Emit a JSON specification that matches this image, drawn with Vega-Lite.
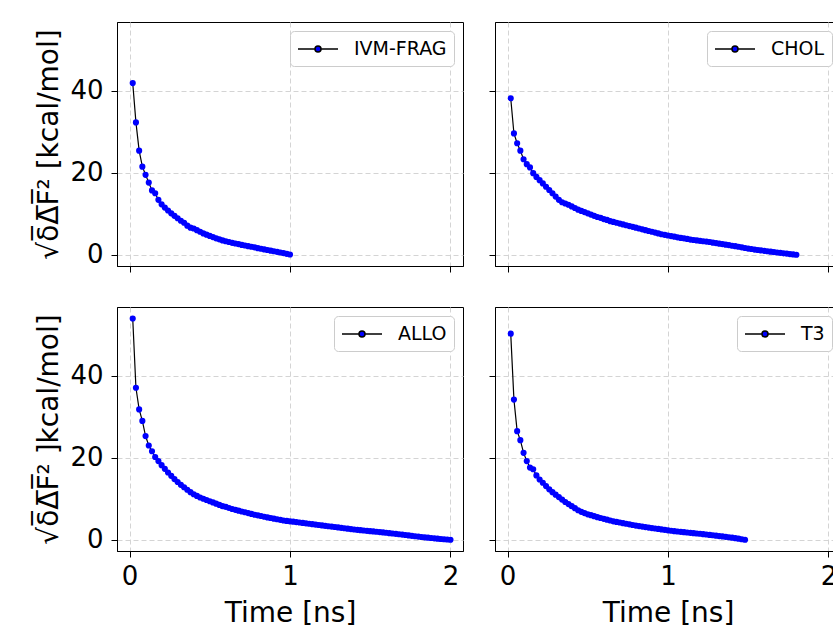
{
  "$schema": "https://vega.github.io/schema/vega-lite/v6.json",
  "padding": {"left": 35, "top": 21, "right": 0, "bottom": 0},
  "background": "white",
  "datasets": {
    "ivm": [
      {"series":"IVM-FRAG","t":0.02,"v":41.9},{"series":"IVM-FRAG","t":0.04,"v":32.3},{"series":"IVM-FRAG","t":0.06,"v":25.4},{"series":"IVM-FRAG","t":0.08,"v":21.5},{"series":"IVM-FRAG","t":0.10,"v":19.5},
      {"series":"IVM-FRAG","t":0.12,"v":17.6},{"series":"IVM-FRAG","t":0.14,"v":15.7},{"series":"IVM-FRAG","t":0.16,"v":15.0},{"series":"IVM-FRAG","t":0.18,"v":13.4},{"series":"IVM-FRAG","t":0.20,"v":12.3},
      {"series":"IVM-FRAG","t":0.22,"v":11.5},{"series":"IVM-FRAG","t":0.24,"v":10.8},{"series":"IVM-FRAG","t":0.26,"v":10.1},{"series":"IVM-FRAG","t":0.28,"v":9.5},{"series":"IVM-FRAG","t":0.30,"v":8.9},
      {"series":"IVM-FRAG","t":0.32,"v":8.3},{"series":"IVM-FRAG","t":0.34,"v":7.8},{"series":"IVM-FRAG","t":0.36,"v":7.1},{"series":"IVM-FRAG","t":0.38,"v":6.6},{"series":"IVM-FRAG","t":0.40,"v":6.4},
      {"series":"IVM-FRAG","t":0.42,"v":6.0},{"series":"IVM-FRAG","t":0.44,"v":5.6},{"series":"IVM-FRAG","t":0.46,"v":5.2},{"series":"IVM-FRAG","t":0.48,"v":4.9},{"series":"IVM-FRAG","t":0.50,"v":4.6},
      {"series":"IVM-FRAG","t":0.52,"v":4.3},{"series":"IVM-FRAG","t":0.54,"v":4.0},{"series":"IVM-FRAG","t":0.56,"v":3.75},{"series":"IVM-FRAG","t":0.58,"v":3.5},{"series":"IVM-FRAG","t":0.60,"v":3.3},
      {"series":"IVM-FRAG","t":0.62,"v":3.1},{"series":"IVM-FRAG","t":0.64,"v":2.9},{"series":"IVM-FRAG","t":0.66,"v":2.75},{"series":"IVM-FRAG","t":0.68,"v":2.6},{"series":"IVM-FRAG","t":0.70,"v":2.4},
      {"series":"IVM-FRAG","t":0.72,"v":2.25},{"series":"IVM-FRAG","t":0.74,"v":2.1},{"series":"IVM-FRAG","t":0.76,"v":1.95},{"series":"IVM-FRAG","t":0.78,"v":1.8},{"series":"IVM-FRAG","t":0.80,"v":1.6},
      {"series":"IVM-FRAG","t":0.82,"v":1.45},{"series":"IVM-FRAG","t":0.84,"v":1.3},{"series":"IVM-FRAG","t":0.86,"v":1.15},{"series":"IVM-FRAG","t":0.88,"v":1.0},{"series":"IVM-FRAG","t":0.90,"v":0.85},
      {"series":"IVM-FRAG","t":0.92,"v":0.7},{"series":"IVM-FRAG","t":0.94,"v":0.55},{"series":"IVM-FRAG","t":0.96,"v":0.4},{"series":"IVM-FRAG","t":0.98,"v":0.22},{"series":"IVM-FRAG","t":1.00,"v":0.05}
    ],
    "chol": [
      {"series":"CHOL","t":0.02,"v":38.2},{"series":"CHOL","t":0.04,"v":29.6},{"series":"CHOL","t":0.06,"v":27.2},{"series":"CHOL","t":0.08,"v":25.4},{"series":"CHOL","t":0.10,"v":23.3},
      {"series":"CHOL","t":0.12,"v":22.1},{"series":"CHOL","t":0.14,"v":21.3},{"series":"CHOL","t":0.16,"v":19.9},{"series":"CHOL","t":0.18,"v":19.0},{"series":"CHOL","t":0.20,"v":18.2},
      {"series":"CHOL","t":0.22,"v":17.4},{"series":"CHOL","t":0.24,"v":16.6},{"series":"CHOL","t":0.26,"v":15.8},{"series":"CHOL","t":0.28,"v":15.0},{"series":"CHOL","t":0.30,"v":14.2},
      {"series":"CHOL","t":0.32,"v":13.4},{"series":"CHOL","t":0.34,"v":12.8},{"series":"CHOL","t":0.36,"v":12.5},{"series":"CHOL","t":0.38,"v":12.2},{"series":"CHOL","t":0.40,"v":11.8},
      {"series":"CHOL","t":0.42,"v":11.4},{"series":"CHOL","t":0.44,"v":11.0},{"series":"CHOL","t":0.46,"v":10.7},{"series":"CHOL","t":0.48,"v":10.4},{"series":"CHOL","t":0.50,"v":10.1},
      {"series":"CHOL","t":0.52,"v":9.8},{"series":"CHOL","t":0.54,"v":9.5},{"series":"CHOL","t":0.56,"v":9.2},{"series":"CHOL","t":0.58,"v":9.0},{"series":"CHOL","t":0.60,"v":8.7},
      {"series":"CHOL","t":0.62,"v":8.5},{"series":"CHOL","t":0.64,"v":8.2},{"series":"CHOL","t":0.66,"v":8.0},{"series":"CHOL","t":0.68,"v":7.8},{"series":"CHOL","t":0.70,"v":7.6},
      {"series":"CHOL","t":0.72,"v":7.4},{"series":"CHOL","t":0.74,"v":7.2},{"series":"CHOL","t":0.76,"v":7.0},{"series":"CHOL","t":0.78,"v":6.8},{"series":"CHOL","t":0.80,"v":6.6},
      {"series":"CHOL","t":0.82,"v":6.4},{"series":"CHOL","t":0.84,"v":6.2},{"series":"CHOL","t":0.86,"v":6.0},{"series":"CHOL","t":0.88,"v":5.8},{"series":"CHOL","t":0.90,"v":5.6},
      {"series":"CHOL","t":0.92,"v":5.4},{"series":"CHOL","t":0.94,"v":5.2},{"series":"CHOL","t":0.96,"v":5.0},{"series":"CHOL","t":0.98,"v":4.85},{"series":"CHOL","t":1.00,"v":4.7},
      {"series":"CHOL","t":1.02,"v":4.55},{"series":"CHOL","t":1.04,"v":4.4},{"series":"CHOL","t":1.06,"v":4.25},{"series":"CHOL","t":1.08,"v":4.1},{"series":"CHOL","t":1.10,"v":4.0},
      {"series":"CHOL","t":1.12,"v":3.85},{"series":"CHOL","t":1.14,"v":3.7},{"series":"CHOL","t":1.16,"v":3.6},{"series":"CHOL","t":1.18,"v":3.5},{"series":"CHOL","t":1.20,"v":3.4},
      {"series":"CHOL","t":1.22,"v":3.3},{"series":"CHOL","t":1.24,"v":3.2},{"series":"CHOL","t":1.26,"v":3.1},{"series":"CHOL","t":1.28,"v":2.95},{"series":"CHOL","t":1.30,"v":2.85},
      {"series":"CHOL","t":1.32,"v":2.7},{"series":"CHOL","t":1.34,"v":2.6},{"series":"CHOL","t":1.36,"v":2.45},{"series":"CHOL","t":1.38,"v":2.35},{"series":"CHOL","t":1.40,"v":2.2},
      {"series":"CHOL","t":1.42,"v":2.1},{"series":"CHOL","t":1.44,"v":1.95},{"series":"CHOL","t":1.46,"v":1.8},{"series":"CHOL","t":1.48,"v":1.65},{"series":"CHOL","t":1.50,"v":1.5},
      {"series":"CHOL","t":1.52,"v":1.4},{"series":"CHOL","t":1.54,"v":1.25},{"series":"CHOL","t":1.56,"v":1.15},{"series":"CHOL","t":1.58,"v":1.05},{"series":"CHOL","t":1.60,"v":0.95},
      {"series":"CHOL","t":1.62,"v":0.85},{"series":"CHOL","t":1.64,"v":0.75},{"series":"CHOL","t":1.66,"v":0.65},{"series":"CHOL","t":1.68,"v":0.55},{"series":"CHOL","t":1.70,"v":0.45},
      {"series":"CHOL","t":1.72,"v":0.35},{"series":"CHOL","t":1.74,"v":0.25},{"series":"CHOL","t":1.76,"v":0.15},{"series":"CHOL","t":1.78,"v":0.07},{"series":"CHOL","t":1.80,"v":0.0}
    ],
    "allo": [
      {"series":"ALLO","t":0.02,"v":54.0},{"series":"ALLO","t":0.04,"v":37.1},{"series":"ALLO","t":0.06,"v":31.8},{"series":"ALLO","t":0.08,"v":29.0},{"series":"ALLO","t":0.10,"v":25.3},
      {"series":"ALLO","t":0.12,"v":23.0},{"series":"ALLO","t":0.14,"v":21.6},{"series":"ALLO","t":0.16,"v":20.2},{"series":"ALLO","t":0.18,"v":19.2},{"series":"ALLO","t":0.20,"v":18.2},
      {"series":"ALLO","t":0.22,"v":17.3},{"series":"ALLO","t":0.24,"v":16.4},{"series":"ALLO","t":0.26,"v":15.6},{"series":"ALLO","t":0.28,"v":14.8},{"series":"ALLO","t":0.30,"v":14.1},
      {"series":"ALLO","t":0.32,"v":13.4},{"series":"ALLO","t":0.34,"v":12.8},{"series":"ALLO","t":0.36,"v":12.2},{"series":"ALLO","t":0.38,"v":11.6},{"series":"ALLO","t":0.40,"v":11.1},
      {"series":"ALLO","t":0.42,"v":10.7},{"series":"ALLO","t":0.44,"v":10.3},{"series":"ALLO","t":0.46,"v":10.0},{"series":"ALLO","t":0.48,"v":9.7},{"series":"ALLO","t":0.50,"v":9.4},
      {"series":"ALLO","t":0.52,"v":9.1},{"series":"ALLO","t":0.54,"v":8.8},{"series":"ALLO","t":0.56,"v":8.5},{"series":"ALLO","t":0.58,"v":8.2},{"series":"ALLO","t":0.60,"v":8.0},
      {"series":"ALLO","t":0.62,"v":7.75},{"series":"ALLO","t":0.64,"v":7.5},{"series":"ALLO","t":0.66,"v":7.3},{"series":"ALLO","t":0.68,"v":7.1},{"series":"ALLO","t":0.70,"v":6.9},
      {"series":"ALLO","t":0.72,"v":6.7},{"series":"ALLO","t":0.74,"v":6.5},{"series":"ALLO","t":0.76,"v":6.3},{"series":"ALLO","t":0.78,"v":6.1},{"series":"ALLO","t":0.80,"v":5.95},
      {"series":"ALLO","t":0.82,"v":5.8},{"series":"ALLO","t":0.84,"v":5.6},{"series":"ALLO","t":0.86,"v":5.45},{"series":"ALLO","t":0.88,"v":5.3},{"series":"ALLO","t":0.90,"v":5.15},
      {"series":"ALLO","t":0.92,"v":5.0},{"series":"ALLO","t":0.94,"v":4.85},{"series":"ALLO","t":0.96,"v":4.7},{"series":"ALLO","t":0.98,"v":4.6},{"series":"ALLO","t":1.00,"v":4.5},
      {"series":"ALLO","t":1.02,"v":4.4},{"series":"ALLO","t":1.04,"v":4.3},{"series":"ALLO","t":1.06,"v":4.2},{"series":"ALLO","t":1.08,"v":4.1},{"series":"ALLO","t":1.10,"v":4.0},
      {"series":"ALLO","t":1.12,"v":3.9},{"series":"ALLO","t":1.14,"v":3.8},{"series":"ALLO","t":1.16,"v":3.7},{"series":"ALLO","t":1.18,"v":3.6},{"series":"ALLO","t":1.20,"v":3.5},
      {"series":"ALLO","t":1.22,"v":3.4},{"series":"ALLO","t":1.24,"v":3.3},{"series":"ALLO","t":1.26,"v":3.2},{"series":"ALLO","t":1.28,"v":3.1},{"series":"ALLO","t":1.30,"v":3.0},
      {"series":"ALLO","t":1.32,"v":2.9},{"series":"ALLO","t":1.34,"v":2.8},{"series":"ALLO","t":1.36,"v":2.7},{"series":"ALLO","t":1.38,"v":2.6},{"series":"ALLO","t":1.40,"v":2.5},
      {"series":"ALLO","t":1.42,"v":2.42},{"series":"ALLO","t":1.44,"v":2.34},{"series":"ALLO","t":1.46,"v":2.26},{"series":"ALLO","t":1.48,"v":2.18},{"series":"ALLO","t":1.50,"v":2.1},
      {"series":"ALLO","t":1.52,"v":2.02},{"series":"ALLO","t":1.54,"v":1.94},{"series":"ALLO","t":1.56,"v":1.86},{"series":"ALLO","t":1.58,"v":1.78},{"series":"ALLO","t":1.60,"v":1.7},
      {"series":"ALLO","t":1.62,"v":1.61},{"series":"ALLO","t":1.64,"v":1.52},{"series":"ALLO","t":1.66,"v":1.43},{"series":"ALLO","t":1.68,"v":1.34},{"series":"ALLO","t":1.70,"v":1.25},
      {"series":"ALLO","t":1.72,"v":1.15},{"series":"ALLO","t":1.74,"v":1.05},{"series":"ALLO","t":1.76,"v":0.95},{"series":"ALLO","t":1.78,"v":0.85},{"series":"ALLO","t":1.80,"v":0.76},
      {"series":"ALLO","t":1.82,"v":0.67},{"series":"ALLO","t":1.84,"v":0.58},{"series":"ALLO","t":1.86,"v":0.5},{"series":"ALLO","t":1.88,"v":0.42},{"series":"ALLO","t":1.90,"v":0.34},
      {"series":"ALLO","t":1.92,"v":0.26},{"series":"ALLO","t":1.94,"v":0.18},{"series":"ALLO","t":1.96,"v":0.11},{"series":"ALLO","t":1.98,"v":0.05},{"series":"ALLO","t":2.00,"v":0.0}
    ],
    "t3": [
      {"series":"T3","t":0.02,"v":50.3},{"series":"T3","t":0.04,"v":34.2},{"series":"T3","t":0.06,"v":26.5},{"series":"T3","t":0.08,"v":24.3},{"series":"T3","t":0.10,"v":21.2},
      {"series":"T3","t":0.12,"v":19.2},{"series":"T3","t":0.14,"v":17.6},{"series":"T3","t":0.16,"v":17.2},{"series":"T3","t":0.18,"v":15.7},{"series":"T3","t":0.20,"v":14.7},
      {"series":"T3","t":0.22,"v":13.9},{"series":"T3","t":0.24,"v":13.1},{"series":"T3","t":0.26,"v":12.3},{"series":"T3","t":0.28,"v":11.6},{"series":"T3","t":0.30,"v":11.0},
      {"series":"T3","t":0.32,"v":10.4},{"series":"T3","t":0.34,"v":9.8},{"series":"T3","t":0.36,"v":9.2},{"series":"T3","t":0.38,"v":8.7},{"series":"T3","t":0.40,"v":8.2},
      {"series":"T3","t":0.42,"v":7.7},{"series":"T3","t":0.44,"v":7.2},{"series":"T3","t":0.46,"v":6.8},{"series":"T3","t":0.48,"v":6.5},{"series":"T3","t":0.50,"v":6.2},
      {"series":"T3","t":0.52,"v":6.0},{"series":"T3","t":0.54,"v":5.75},{"series":"T3","t":0.56,"v":5.5},{"series":"T3","t":0.58,"v":5.3},{"series":"T3","t":0.60,"v":5.1},
      {"series":"T3","t":0.62,"v":4.9},{"series":"T3","t":0.64,"v":4.7},{"series":"T3","t":0.66,"v":4.5},{"series":"T3","t":0.68,"v":4.35},{"series":"T3","t":0.70,"v":4.2},
      {"series":"T3","t":0.72,"v":4.05},{"series":"T3","t":0.74,"v":3.9},{"series":"T3","t":0.76,"v":3.75},{"series":"T3","t":0.78,"v":3.6},{"series":"T3","t":0.80,"v":3.45},
      {"series":"T3","t":0.82,"v":3.33},{"series":"T3","t":0.84,"v":3.2},{"series":"T3","t":0.86,"v":3.08},{"series":"T3","t":0.88,"v":2.96},{"series":"T3","t":0.90,"v":2.85},
      {"series":"T3","t":0.92,"v":2.74},{"series":"T3","t":0.94,"v":2.63},{"series":"T3","t":0.96,"v":2.52},{"series":"T3","t":0.98,"v":2.41},{"series":"T3","t":1.00,"v":2.3},
      {"series":"T3","t":1.02,"v":2.2},{"series":"T3","t":1.04,"v":2.1},{"series":"T3","t":1.06,"v":2.0},{"series":"T3","t":1.08,"v":1.93},{"series":"T3","t":1.10,"v":1.85},
      {"series":"T3","t":1.12,"v":1.77},{"series":"T3","t":1.14,"v":1.69},{"series":"T3","t":1.16,"v":1.61},{"series":"T3","t":1.18,"v":1.53},{"series":"T3","t":1.20,"v":1.45},
      {"series":"T3","t":1.22,"v":1.36},{"series":"T3","t":1.24,"v":1.27},{"series":"T3","t":1.26,"v":1.18},{"series":"T3","t":1.28,"v":1.09},{"series":"T3","t":1.30,"v":1.0},
      {"series":"T3","t":1.32,"v":0.9},{"series":"T3","t":1.34,"v":0.8},{"series":"T3","t":1.36,"v":0.7},{"series":"T3","t":1.38,"v":0.6},{"series":"T3","t":1.40,"v":0.5},
      {"series":"T3","t":1.42,"v":0.38},{"series":"T3","t":1.44,"v":0.25},{"series":"T3","t":1.46,"v":0.12},{"series":"T3","t":1.48,"v":0.0}
    ]
  },
  "concat": [
    {
      "width": 346, "height": 244,
      "data": {"name": "ivm"},
      "layer": [
        {"mark": {"type": "line", "color": "black", "strokeWidth": 1.2},
         "encoding": {
           "x": {"field": "t", "type": "quantitative", "scale": {"domain": [-0.078, 2.078], "nice": false, "zero": false}, "axis": {"values": [0, 1, 2], "labels": false, "title": null}},
           "y": {"field": "v", "type": "quantitative", "scale": {"domain": [-2.75, 56.8], "nice": false, "zero": false}, "axis": {"values": [0, 20, 40], "title": "√δ\u0305Δ\u0305F\u0305² [kcal/mol]"}}
         }},
        {"mark": {"type": "point", "filled": true, "size": 38, "opacity": 1},
         "encoding": {
           "x": {"field": "t", "type": "quantitative"},
           "y": {"field": "v", "type": "quantitative"},
           "color": {"field": "series", "type": "nominal", "scale": {"range": ["blue"]}, "legend": {"title": null}}
         }}
      ]
    },
    {
      "width": 346, "height": 244,
      "data": {"name": "chol"},
      "layer": [
        {"mark": {"type": "line", "color": "black", "strokeWidth": 1.2},
         "encoding": {
           "x": {"field": "t", "type": "quantitative", "scale": {"domain": [-0.078, 2.078], "nice": false, "zero": false}, "axis": {"values": [0, 1, 2], "labels": false, "title": null}},
           "y": {"field": "v", "type": "quantitative", "scale": {"domain": [-2.75, 56.8], "nice": false, "zero": false}, "axis": {"values": [0, 20, 40], "labels": false, "title": null}}
         }},
        {"mark": {"type": "point", "filled": true, "size": 38, "opacity": 1},
         "encoding": {
           "x": {"field": "t", "type": "quantitative"},
           "y": {"field": "v", "type": "quantitative"},
           "color": {"field": "series", "type": "nominal", "scale": {"range": ["blue"]}, "legend": {"title": null}}
         }}
      ]
    },
    {
      "width": 346, "height": 244,
      "data": {"name": "allo"},
      "layer": [
        {"mark": {"type": "line", "color": "black", "strokeWidth": 1.2},
         "encoding": {
           "x": {"field": "t", "type": "quantitative", "scale": {"domain": [-0.078, 2.078], "nice": false, "zero": false}, "axis": {"values": [0, 1, 2], "format": "d", "title": "Time [ns]"}},
           "y": {"field": "v", "type": "quantitative", "scale": {"domain": [-2.75, 56.8], "nice": false, "zero": false}, "axis": {"values": [0, 20, 40], "title": "√δ\u0305Δ\u0305F\u0305² ]kcal/mol]"}}
         }},
        {"mark": {"type": "point", "filled": true, "size": 38, "opacity": 1},
         "encoding": {
           "x": {"field": "t", "type": "quantitative"},
           "y": {"field": "v", "type": "quantitative"},
           "color": {"field": "series", "type": "nominal", "scale": {"range": ["blue"]}, "legend": {"title": null}}
         }}
      ]
    },
    {
      "width": 346, "height": 244,
      "data": {"name": "t3"},
      "layer": [
        {"mark": {"type": "line", "color": "black", "strokeWidth": 1.2},
         "encoding": {
           "x": {"field": "t", "type": "quantitative", "scale": {"domain": [-0.078, 2.078], "nice": false, "zero": false}, "axis": {"values": [0, 1, 2], "format": "d", "title": "Time [ns]"}},
           "y": {"field": "v", "type": "quantitative", "scale": {"domain": [-2.75, 56.8], "nice": false, "zero": false}, "axis": {"values": [0, 20, 40], "labels": false, "title": null}}
         }},
        {"mark": {"type": "point", "filled": true, "size": 38, "opacity": 1},
         "encoding": {
           "x": {"field": "t", "type": "quantitative"},
           "y": {"field": "v", "type": "quantitative"},
           "color": {"field": "series", "type": "nominal", "scale": {"range": ["blue"]}, "legend": {"title": null}}
         }}
      ]
    }
  ],
  "columns": 2,
  "align": "each",
  "spacing": {"row": 33, "column": 24},
  "resolve": {"scale": {"color": "independent"}, "legend": {"color": "independent"}},
  "config": {
    "font": "DejaVu Sans",
    "view": {"stroke": "black", "strokeWidth": 1},
    "axis": {
      "domainColor": "black", "domainWidth": 1,
      "tickColor": "black", "tickSize": 6, "tickWidth": 1,
      "labelFont": "DejaVu Sans", "labelFontSize": 26, "labelColor": "black",
      "titleFont": "DejaVu Sans", "titleFontSize": 28, "titleFontWeight": "normal", "titleColor": "black",
      "gridColor": "#d4d4d4", "gridDash": [5, 3], "gridWidth": 1
    },
    "axisX": {"labelPadding": 6, "titlePadding": 10},
    "axisY": {"labelPadding": 8, "titlePadding": 6},
    "legend": {
      "orient": "top-right", "offset": 9,
      "labelFont": "DejaVu Sans", "labelFontSize": 19, "labelColor": "black",
      "fillColor": "white", "strokeColor": "#cccccc", "cornerRadius": 4, "padding": 7,
      "symbolType": "M-1,0H0.7M1.3,0H3M1.3,0A0.3,0.3,0,1,1,0.7,0A0.3,0.3,0,1,1,1.3,0Z",
      "symbolSize": 400, "symbolStrokeColor": "black", "symbolStrokeWidth": 1.5, "symbolFillColor": "blue", "symbolOpacity": 1,
      "labelOffset": 35
    }
  }
}
